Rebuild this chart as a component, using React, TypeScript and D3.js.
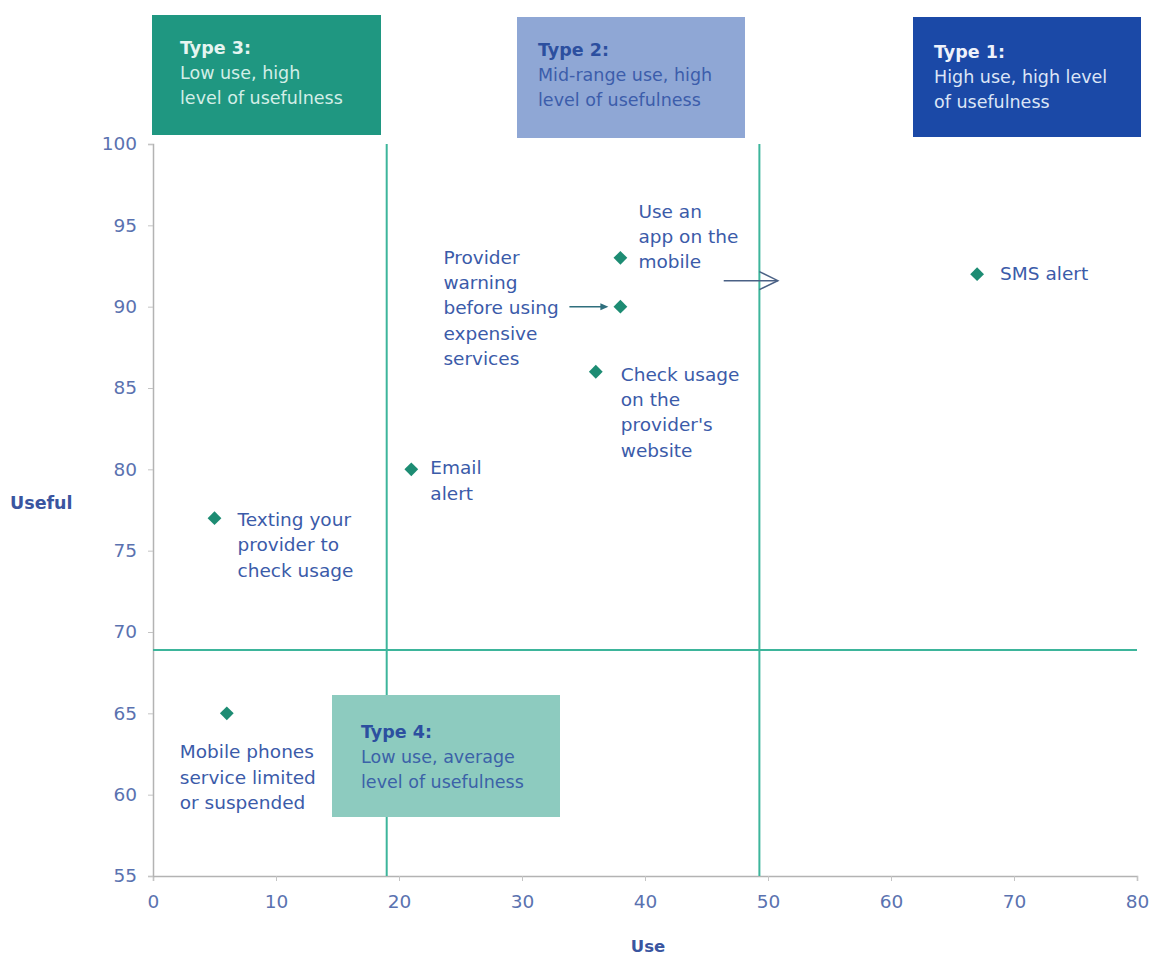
import * as d3 from 'd3';
import { useEffect, useRef } from 'react';

// data
const methods = [
  'SMS alert',
  'Use an app on the mobile',
  'Provider warning before using expensive services',
  'Check usage on the provider\'s website',
  'Email alert',
  'Texting your provider to check usage',
  'Mobile phones service limited or suspended',
];
const useValues = [67, 38, 38, 36, 21, 5, 6];
const usefulValues = [92, 93, 90, 86, 80, 77, 65];
const labelLines = [
  ['SMS alert'],
  ['Use an', 'app on the', 'mobile'],
  ['Provider', 'warning', 'before using', 'expensive', 'services'],
  ['Check usage', 'on the', 'provider\'s', 'website'],
  ['Email', 'alert'],
  ['Texting your', 'provider to', 'check usage'],
  ['Mobile phones', 'service limited', 'or suspended'],
];

const xTicks = [0, 10, 20, 30, 40, 50, 60, 70, 80];
const yTicks = [55, 60, 65, 70, 75, 80, 85, 90, 95, 100];

// quadrant dividers
const useCut = [19, 49.3];
const usefulCut = 68.9;

const typeTitles = ['Type 3:', 'Type 2:', 'Type 1:', 'Type 4:'];
const typeText = [
  ['Low use, high', 'level of usefulness'],
  ['Mid-range use, high', 'level of usefulness'],
  ['High use, high level', 'of usefulness'],
  ['Low use, average', 'level of usefulness'],
];

// layout (pixels) — kept apart from data
const W = 1150;
const H = 958;
const FONT = '"DejaVu Sans", sans-serif';
const LABEL = '#3b5ba9';
const TEAL = '#3db59b';
const MARK = '#1d8c73';

const boxes = [
  { x: 152, y: 15, w: 229, h: 120, fill: '#1f9781', title: '#e6f5f1', text: '#d3eee7', tx: 180, ty: 54 },
  { x: 517, y: 17, w: 228, h: 121, fill: '#8fa7d5', title: '#2c4f9f', text: '#3c5dab', tx: 538, ty: 56 },
  { x: 913, y: 17, w: 228, h: 120, fill: '#1b49a7', title: '#eef2fb', text: '#dce5f6', tx: 934, ty: 58 },
  { x: 332, y: 695, w: 228, h: 122, fill: '#8dcbbf', title: '#2c4f9f', text: '#3b62a8', tx: 361, ty: 738 },
];

// label offsets from each point: dx, first-baseline dy
const labelOffsets = [
  [23, 6],
  [18, -40],
  [-177, -43],
  [25, 9],
  [19, 5],
  [23, 8],
  [-47, 45],
];

export default function App() {
  const xAxisRef = useRef(null);
  const yAxisRef = useRef(null);

  const x = d3.scaleLinear().domain([0, 80]).range([153, 1137]);
  const y = d3.scaleLinear().domain([55, 100]).range([876, 144]);

  useEffect(() => {
    const gx = d3.select(xAxisRef.current);
    gx.call(d3.axisBottom(x).tickValues(xTicks).tickSize(5).tickPadding(14));
    const gy = d3.select(yAxisRef.current);
    gy.call(d3.axisLeft(y).tickValues(yTicks).tickSize(5).tickPadding(11));
    [gx, gy].forEach(g => {
      g.select('.domain').attr('stroke', '#b3b3b3').attr('stroke-width', 1.5);
      g.selectAll('.tick line').attr('stroke', '#c4c4c4');
      g.selectAll('.tick text')
        .attr('fill', '#5a72b0')
        .style('font-family', FONT)
        .style('font-size', '18.5px');
    });
  }, []);

  const diamond = d3.symbol().type(d3.symbolSquare).size(95);

  return (
    <div style={{ position: 'absolute', left: 0, top: 0 }}>
      <svg width={W} height={H} style={{ display: 'block', background: '#fff' }}>
        {/* axes */}
        <g ref={xAxisRef} transform={`translate(0,${y(55)})`} />
        <g ref={yAxisRef} transform={`translate(${x(0)},0)`} />

        {/* quadrant lines */}
        {useCut.map((u, i) => (
          <line key={'v' + i} x1={x(u)} x2={x(u)} y1={y(100)} y2={y(55)}
            stroke={TEAL} strokeWidth={2} />
        ))}
        <line x1={x(0)} x2={x(80)} y1={y(usefulCut)} y2={y(usefulCut)}
          stroke={TEAL} strokeWidth={2} />

        {/* type boxes */}
        {boxes.map((b, i) => (
          <g key={'b' + i} style={{ fontFamily: FONT, fontSize: 17.5 }}>
            <rect x={b.x} y={b.y} width={b.w} height={b.h} fill={b.fill} />
            <text x={b.tx} y={b.ty} fill={b.title} fontWeight="bold">{typeTitles[i]}</text>
            {typeText[i].map((t, j) => (
              <text key={j} x={b.tx} y={b.ty + 25 * (j + 1)} fill={b.text}>{t}</text>
            ))}
          </g>
        ))}

        {/* arrows */}
        <line x1={x(38) - 51} x2={x(38) - 17} y1={y(90)} y2={y(90)}
          stroke="#2f6f7d" strokeWidth={1.5} />
        <path d={`M${x(38) - 12},${y(90)} L${x(38) - 20},${y(90) - 3.5} L${x(38) - 20},${y(90) + 3.5} Z`}
          fill="#2f6f7d" />
        <line x1={x(46.4)} x2={x(50.8)} y1={y(91.6)} y2={y(91.6)}
          stroke="#4a6185" strokeWidth={1.5} />
        <path d={`M${x(49.3)},${y(91.6) - 9} L${x(50.8)},${y(91.6)} L${x(49.3)},${y(91.6) + 9}`}
          fill="none" stroke="#4a6185" strokeWidth={1.5} />

        {/* points */}
        {methods.map((m, i) => (
          <path key={m}
            d={diamond()}
            transform={`translate(${x(useValues[i])},${y(usefulValues[i])}) rotate(45)`}
            fill={MARK} />
        ))}

        {/* point labels */}
        {methods.map((m, i) => (
          <g key={'l' + m} style={{ fontFamily: FONT, fontSize: 18.5 }} fill={LABEL}>
            {labelLines[i].map((t, j) => (
              <text key={j}
                x={x(useValues[i]) + labelOffsets[i][0]}
                y={y(usefulValues[i]) + labelOffsets[i][1] + 25.3 * j}>{t}</text>
            ))}
          </g>
        ))}

        {/* axis titles */}
        <text x={10} y={509} fill="#3a55a0" fontWeight="bold"
          style={{ fontFamily: FONT, fontSize: 17.5 }}>Useful</text>
        <text x={648} y={952} fill="#3a55a0" fontWeight="bold" textAnchor="middle"
          style={{ fontFamily: FONT, fontSize: 16.5 }}>Use</text>
      </svg>
    </div>
  );
}
